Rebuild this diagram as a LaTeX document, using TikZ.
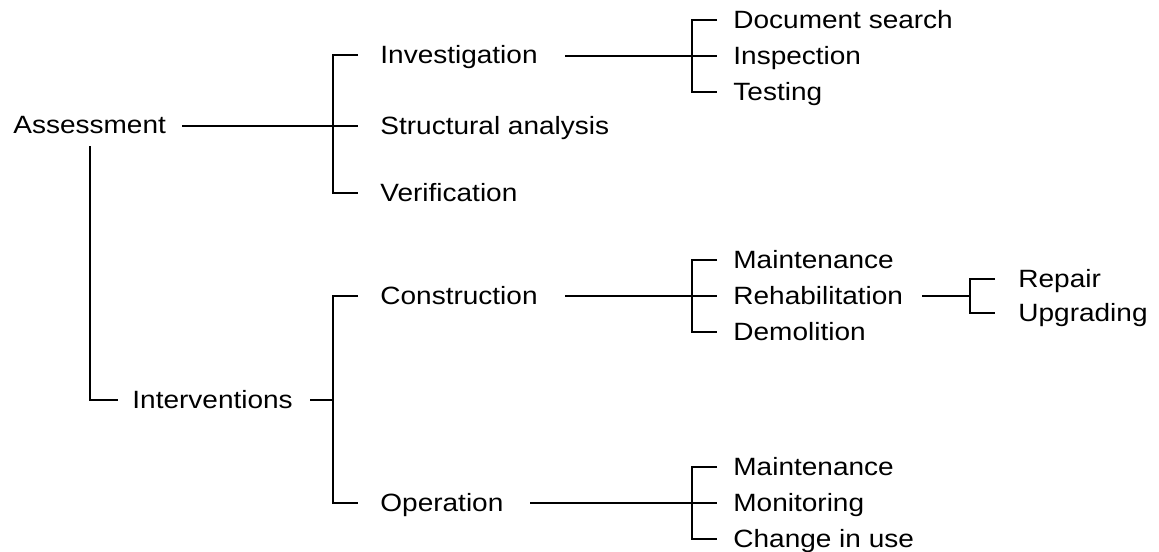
\documentclass[tikz,border=0pt]{standalone}
\usepackage{fontspec}
\setmainfont[FakeStretch=1.12]{Liberation Sans}
\usetikzlibrary{calc}
\begin{document}
\begin{tikzpicture}[x=0.5pt,y=-0.5pt,
  lbl/.style={anchor=west, inner sep=0pt, text height=8.95pt, text depth=0pt, font=\fontsize{12.5pt}{14pt}\selectfont},
  ln/.style={line width=1pt}]
\useasboundingbox (0,0) rectangle (1159,551);
% labels
\node[lbl] (ass) at (13,125) {Assessment};
\node[lbl] (intv) at (132,400) {Interventions};
\node[lbl] (inv) at (380,55) {Investigation};
\node[lbl] (sa) at (380,126) {Structural analysis};
\node[lbl] (ver) at (380,193) {Verification};
\node[lbl] (con) at (380,296) {Construction};
\node[lbl] (op) at (380,503) {Operation};
\node[lbl] (ds) at (733,20) {Document search};
\node[lbl] (insp) at (733,56) {Inspection};
\node[lbl] (test) at (733,92) {Testing};
\node[lbl] (mnt1) at (733,260) {Maintenance};
\node[lbl] (reh) at (733,296) {Rehabilitation};
\node[lbl] (dem) at (733,332) {Demolition};
\node[lbl] (rep) at (1018,279) {Repair};
\node[lbl] (upg) at (1018,313) {Upgrading};
\node[lbl] (mnt2) at (733,467) {Maintenance};
\node[lbl] (mon) at (733,503) {Monitoring};
\node[lbl] (chg) at (733,539) {Change in use};
% free line ends
\coordinate (sA) at (182,126);
\coordinate (bI) at (333,400);
\coordinate (sInv) at (565,56);
\coordinate (sCon) at (565,296);
\coordinate (sOp) at (530,503);
\coordinate (sReh) at (922,296);
% Assessment
\draw[ln] (sA) -- ($(sa.west)+(-22,0)$);
\draw[ln] ($(inv.west)+(-22,0)$) -- ++(-25,0) |- ($(ver.west)+(-22,0)$);
\draw[ln] ($(ass.south)+(0,12)$) |- ($(intv.west)+(-14,0)$);
% Interventions
\draw[ln] ($(intv.east)+(17,0)$) -- (bI);
\draw[ln] ($(con.west)+(-22,0)$) -- ++(-25,0) |- ($(op.west)+(-22,0)$);
% Investigation
\draw[ln] (sInv) -- ($(insp.west)+(-16,0)$);
\draw[ln] ($(ds.west)+(-16,0)$) -- ++(-25,0) |- ($(test.west)+(-16,0)$);
% Construction
\draw[ln] (sCon) -- ($(reh.west)+(-16,0)$);
\draw[ln] ($(mnt1.west)+(-16,0)$) -- ++(-25,0) |- ($(dem.west)+(-16,0)$);
% Rehabilitation
\draw[ln] (sReh) -- ($(rep.west)!0.5!(upg.west)+(-48,0)$);
\draw[ln] ($(rep.west)+(-23,0)$) -- ++(-25,0) |- ($(upg.west)+(-23,0)$);
% Operation
\draw[ln] (sOp) -- ($(mon.west)+(-16,0)$);
\draw[ln] ($(mnt2.west)+(-16,0)$) -- ++(-25,0) |- ($(chg.west)+(-16,0)$);
\end{tikzpicture}
\end{document}
